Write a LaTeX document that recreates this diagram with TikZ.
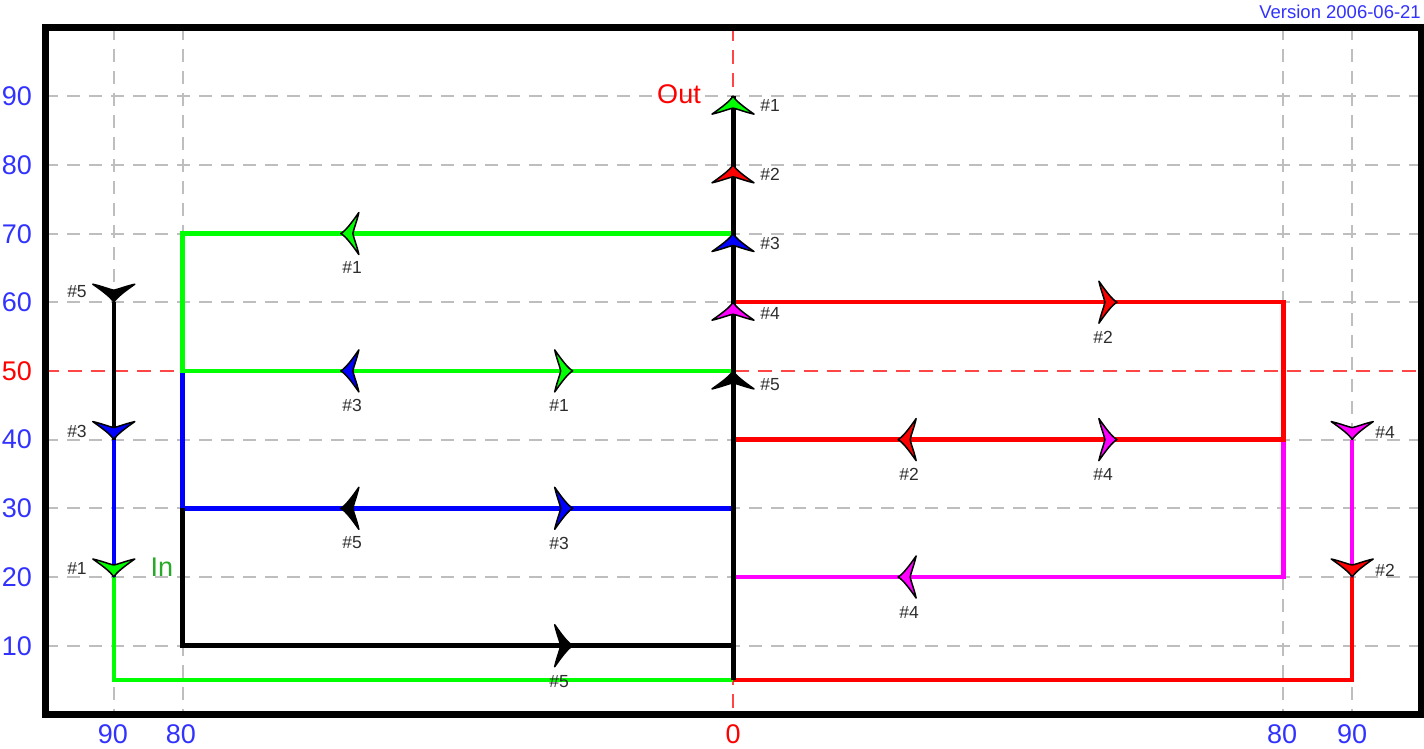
\documentclass[tikz,border=0pt]{standalone}
\usepackage{fontspec}
\setmainfont{Liberation Sans}
\definecolor{pgreen}{RGB}{0,255,0}
\definecolor{pred}{RGB}{255,0,0}
\definecolor{pblue}{RGB}{0,0,255}
\definecolor{pmag}{RGB}{255,0,255}
\definecolor{axblue}{RGB}{50,50,255}
\definecolor{gridgray}{RGB}{190,190,190}
\definecolor{dashred}{RGB}{255,70,70}
\definecolor{labgray}{RGB}{45,45,45}
\definecolor{ingreen}{RGB}{40,170,40}
\tikzset{
  gridline/.style={gridgray, line width=2pt, dash pattern=on 13pt off 9pt},
  redgrid/.style={dashred, line width=2pt, dash pattern=on 14pt off 9pt},
  flow/.style={line width=4.5pt},
  axlab/.style={font=\fontsize{27}{27}\selectfont, text=axblue, inner sep=0pt},
  numlab/.style={font=\fontsize{17.5}{17.5}\selectfont, text=labgray, inner sep=0pt},
}
\newcommand\myarrow[3]{\filldraw[fill=#1,draw=black,line width=1.5pt,line join=round,shift={#2},rotate=#3]
  (0pt,0pt) .. controls (-5pt,3pt) and (-11pt,11pt) .. (-18pt,21pt)
  .. controls (-16pt,12pt) and (-13pt,5pt) .. (-12pt,0pt)
  .. controls (-13pt,-5pt) and (-16pt,-12pt) .. (-18pt,-21pt)
  .. controls (-11pt,-11pt) and (-5pt,-3pt) .. (0pt,0pt) -- cycle;}
\begin{document}
\begin{tikzpicture}[x=1pt,y=-1pt]
\useasboundingbox (0,0) rectangle (1424,748);
\begin{scope}[shift={(733pt,-714.4pt)}, x=6.88pt, y=6.87pt]
  % grid
  \foreach \v in {10,20,30,40,60,70,80,90} \draw[gridline] (-100,\v) -- (100,\v);
  \foreach \u in {-90,-80,80,90} \draw[gridline] (\u,100) -- (\u,0);
  \draw[redgrid] (-100,50) -- (100,50);
  \draw[redgrid] (0,100) -- (0,0);
  % flows
  \draw[flow,pgreen] (-90,20) -- (-90,5) -- (0,5);
  \draw[flow,pblue] (-80,50) -- (-80,30) -- (0,30);
  \draw[flow,pgreen] (0,70) -- (-80,70) -- (-80,50) -- (0,50);
  \draw[flow,pblue,line width=4pt] (-90,40) -- (-90,20);
  \draw[flow,black] (-80,30) -- (-80,10) -- (0,10);
  \draw[flow,black,line width=4pt] (-90,60) -- (-90,40);
  \draw[flow,pmag] (80,40) -- (80,20) -- (0,20);
  \draw[flow,pred] (0,60) -- (80,60) -- (80,40) -- (0,40);
  \draw[flow,pred] (0,5) -- (90,5) -- (90,20);
  \draw[flow,pmag,line width=3.5pt] (90,20) -- (90,40);
  \draw[line width=5pt,black] (0,5) -- (0,90);
  % frame
  \draw[line width=7pt] (-100,0) rectangle (100,100);
  % arrows on the centre line
  \myarrow{pgreen}{(0,90)}{90}
  \myarrow{pred}{(0,80)}{90}
  \myarrow{pblue}{(0,70)}{90}
  \myarrow{pmag}{(0,60)}{90}
  \myarrow{black}{(0,50)}{90}
  % left verticals
  \myarrow{black}{(-90,60)}{-90}
  \myarrow{pblue}{(-90,40)}{-90}
  \myarrow{pgreen}{(-90,20)}{-90}
  % right verticals
  \myarrow{pmag}{(90,40)}{-90}
  \myarrow{pred}{(90,20)}{-90}
  % horizontal arrows left
  \myarrow{pgreen}{(-57,70)}{180}
  \myarrow{pblue}{(-57,50)}{180}
  \myarrow{pgreen}{(-23.3,50)}{0}
  \myarrow{black}{(-57,30)}{180}
  \myarrow{pblue}{(-23.3,30)}{0}
  \myarrow{black}{(-23.3,10)}{0}
  % horizontal arrows right
  \myarrow{pred}{(55.8,60)}{0}
  \myarrow{pred}{(24,40)}{180}
  \myarrow{pmag}{(55.8,40)}{0}
  \myarrow{pmag}{(24,20)}{180}
\end{scope}
% axis labels
\node[axlab,anchor=east] (l90) at (32,96) {90};
\node[axlab,anchor=east] (l80) at (32,165) {80};
\node[axlab,anchor=east] (l70) at (32,234) {70};
\node[axlab,anchor=east] (l60) at (32,302) {60};
\node[axlab,anchor=east,text=pred] (l50) at (32,371) {50};
\node[axlab,anchor=east] (l40) at (32,439) {40};
\node[axlab,anchor=east] (l30) at (32,508) {30};
\node[axlab,anchor=east] (l20) at (32,577) {20};
\node[axlab,anchor=east] (l10) at (32,646) {10};
\node[axlab] (b90l) at (113,734) {90};
\node[axlab] (b80l) at (181,734) {80};
\node[axlab,text=pred] (b0) at (733,734) {0};
\node[axlab] (b80r) at (1282,734) {80};
\node[axlab] (b90r) at (1352,734) {90};
\node[font=\fontsize{18.5}{18.5}\selectfont,text=axblue,inner sep=0pt,anchor=east] (ver) at (1421,12) {Version 2006-06-21};
\node[font=\fontsize{27}{27}\selectfont,text=pred,inner sep=0pt] (out) at (679,94) {Out};
\node[font=\fontsize{27}{27}\selectfont,text=ingreen,inner sep=0pt] (in) at (162,567) {In};
% number labels
\node[numlab] (c1) at (770,105) {\#1};
\node[numlab] (c2) at (770,174) {\#2};
\node[numlab] (c3) at (770,243) {\#3};
\node[numlab] (c4) at (770,313) {\#4};
\node[numlab] (c5) at (770,385) {\#5};
\node[numlab] (h1) at (352,267) {\#1};
\node[numlab] (h2) at (352,405) {\#3};
\node[numlab] (h3) at (559,405) {\#1};
\node[numlab] (h4) at (352,543) {\#5};
\node[numlab] (h5) at (559,543) {\#3};
\node[numlab] (h6) at (559,682) {\#5};
\node[numlab] (r1) at (1103,337) {\#2};
\node[numlab] (r2) at (909,474) {\#2};
\node[numlab] (r3) at (1103,474) {\#4};
\node[numlab] (r4) at (909,612) {\#4};
\node[numlab] (v1) at (77,292) {\#5};
\node[numlab] (v2) at (77,431) {\#3};
\node[numlab] (v3) at (77,568) {\#1};
\node[numlab] (v4) at (1385,432) {\#4};
\node[numlab] (v5) at (1385,570) {\#2};
\end{tikzpicture}
\end{document}
